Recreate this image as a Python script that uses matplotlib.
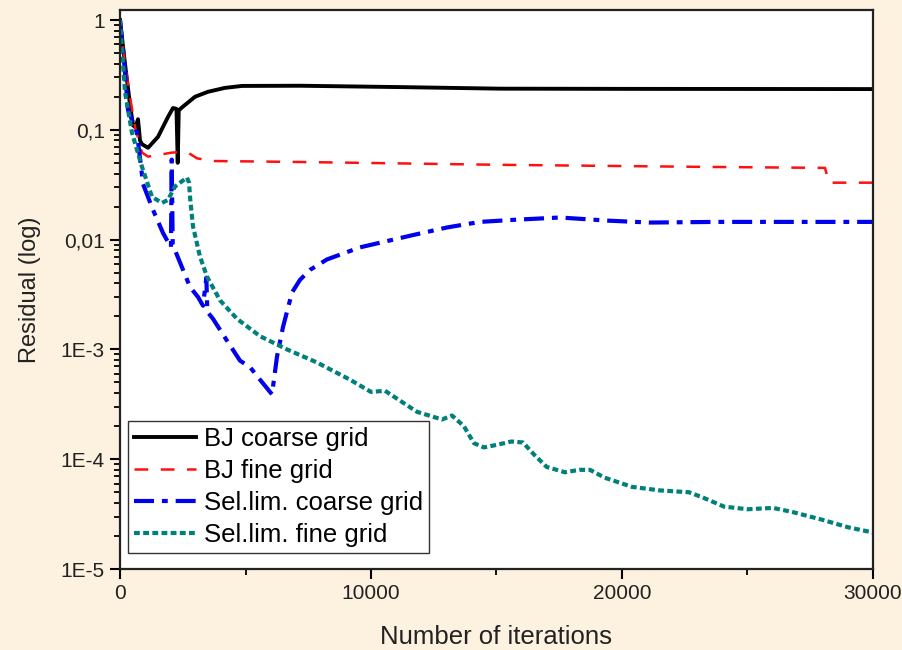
import matplotlib
matplotlib.use("Agg")
import matplotlib.pyplot as plt
from matplotlib.ticker import FixedLocator, LogLocator, NullFormatter

plt.rcParams['font.family'] = ['Liberation Sans', 'DejaVu Sans']

# values (iterations, residual)
bj_coarse_x = [0, 199, 398, 518, 620, 717, 797, 876, 1116, 1514, 1912, 2112, 2250, 2300,
               2340, 2470, 2988, 3506, 4183, 4861, 7171, 11155, 15139, 20000, 30000]
bj_coarse_y = [1.0, 0.4, 0.17, 0.11, 0.105, 0.125, 0.08, 0.074, 0.0686, 0.0863, 0.131, 0.158, 0.155, 0.05,
               0.15, 0.16, 0.2, 0.222, 0.241, 0.251, 0.252, 0.245, 0.237, 0.236, 0.235]

bj_fine_x = [0, 199, 398, 598, 876, 1116, 1514, 2072, 2510, 2709, 3068, 3665, 6972, 15139,
             23107, 28087, 28250, 30000]
bj_fine_y = [1.0, 0.4, 0.2, 0.107, 0.062, 0.057, 0.059, 0.062, 0.063, 0.062, 0.055, 0.052, 0.051, 0.048,
             0.046, 0.045, 0.033, 0.033]

sel_coarse_x = [0, 159, 319, 677, 920, 1300, 1713, 2030, 2060, 2100, 2390, 2789, 3108, 3307, 3440,
                3480, 3705, 4263, 4781, 5180, 5578, 5976, 6056, 6255, 6494, 6853, 7171, 7570, 8247,
                9562, 11673, 13028, 14343, 15817, 17530, 19402, 21116, 23785, 30000]
sel_coarse_y = [1.0, 0.43, 0.152, 0.094, 0.032, 0.019, 0.0115, 0.0085, 0.0535, 0.009, 0.0062, 0.0037,
                0.003, 0.0025, 0.0045, 0.0022, 0.0019, 0.0012, 0.00079, 0.00069, 0.00053, 0.00041,
                0.00039, 0.00086, 0.0016, 0.0033, 0.0043, 0.0053, 0.0066, 0.0085, 0.011, 0.0129,
                0.0145, 0.0152, 0.0159, 0.0149, 0.0143, 0.0145, 0.0145]

sel_fine_x = [0, 199, 478, 876, 1275, 1673, 1912, 2191, 2470, 2669, 2750, 2800, 2908, 3187, 3466,
              3984, 4661, 5578, 6653, 7849, 9163, 10000, 10558, 11833, 12829, 13227, 13700, 14100,
              14502, 15000, 15600, 16056, 16500, 17000, 17729, 18300, 18725, 19300, 20398, 21500,
              22669, 23200, 24064, 25000, 26016, 26800, 28000, 29000, 30000]
sel_fine_y = [1.0, 0.22, 0.094, 0.046, 0.0245, 0.0216, 0.023, 0.0304, 0.034, 0.0367, 0.033, 0.023,
              0.0132, 0.007, 0.0046, 0.0028, 0.0019, 0.00132, 0.001, 0.00076, 0.00053, 0.00041,
              0.00042, 0.00027, 0.00023, 0.00025, 0.0002, 0.00014, 0.000128, 0.000135, 0.000145,
              0.000142, 0.00011, 0.000085, 0.000076, 0.00008, 0.00008, 0.000068, 0.000056, 0.000052,
              0.00005, 0.000045, 0.000037, 0.000035, 0.000036, 0.000033, 0.000028, 0.000024, 0.0000215]

x_ticks = [0, 10000, 20000, 30000]
y_ticks = [1e-5, 1e-4, 1e-3, 1e-2, 1e-1, 1]
y_tick_labels = ["1E-5", "1E-4", "1E-3", "0,01", "0,1", "1"]

bg = "#FDF1DF"
fig = plt.figure(figsize=(9.03, 6.5), dpi=100, facecolor=bg)
ax = fig.add_axes([120 / 903, 1 - 569 / 650, 753 / 903, 559 / 650])
ax.set_facecolor("white")

ax.plot(bj_coarse_x, bj_coarse_y, color="black", lw=2.8, label="BJ coarse grid")
ax.plot(bj_fine_x, bj_fine_y, color="#FF1010", lw=1.8, dashes=(5.5, 5), label="BJ fine grid")
ax.plot(sel_coarse_x, sel_coarse_y, color="#0000EE", lw=3.0, dashes=(4.8, 1.9, 1.4, 1.9),
        label="Sel.lim. coarse grid")
ax.plot(sel_fine_x, sel_fine_y, color="#00807A", lw=3.0, dashes=(1.4, 0.8), label="Sel.lim. fine grid")

ax.set_yscale("log")
ax.set_xlim(0, 30000)
ax.set_ylim(1e-5, 10 ** (10 / 109.6))

ax.xaxis.set_major_locator(FixedLocator(x_ticks))
ax.xaxis.set_minor_locator(FixedLocator([5000, 15000, 25000]))
ax.set_xticklabels([str(t) for t in x_ticks])
ax.yaxis.set_major_locator(FixedLocator(y_ticks))
ax.set_yticklabels(y_tick_labels)
ax.yaxis.set_minor_locator(LogLocator(base=10, subs=range(2, 10), numticks=20))
ax.yaxis.set_minor_formatter(NullFormatter())

ax.tick_params(which="major", direction="out", length=7, width=1.5, labelsize=15, pad=4,
               colors="black", labelcolor="#222222")
ax.tick_params(which="minor", direction="out", length=4, width=1.3)
ax.tick_params(top=False, right=False, which="both")
for s in ax.spines.values():
    s.set_linewidth(1.6)
    s.set_color("#222222")

ax.set_xlabel("Number of iterations", fontsize=18.5, color="#222222", labelpad=16)
ax.set_ylabel("Residual (log)", fontsize=17, color="#222222", labelpad=14)

leg = ax.legend(loc="lower left", bbox_to_anchor=(8 / 753, 16 / 559), borderaxespad=0,
                fontsize=18.5, fancybox=False, framealpha=1, edgecolor="#333333",
                handlelength=2.4, handletextpad=0.3, labelspacing=0.3, borderpad=0.25)
leg.get_frame().set_linewidth(1.0)

fig.savefig("out.png", dpi=100, facecolor=bg)
